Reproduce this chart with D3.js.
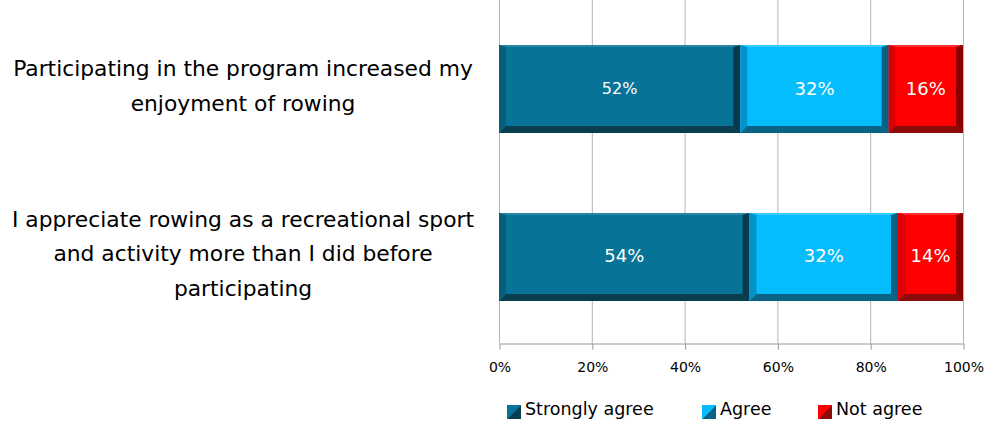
<!DOCTYPE html>
<html><head><meta charset="utf-8">
<script src="https://cdn.jsdelivr.net/npm/d3@7"></script>
<style>body{margin:0;background:#fff}svg{display:block}text{font-family:"DejaVu Sans",Verdana,sans-serif}</style>
</head><body>
<script>
const categories = [
  ["Participating in the program increased my", "enjoyment of rowing"],
  ["I appreciate rowing as a recreational sport", "and activity more than I did before", "participating"]
];
const seriesNames = ["Strongly agree", "Agree", "Not agree"];
const stronglyAgree = [52, 54];
const agree = [32, 32];
const notAgree = [16, 14];
const tickValues = [0, 20, 40, 60, 80, 100];

const faces = ["#077396", "#05bdfd", "#fe0000"];
const leftB = ["#085e7b", "#0392c9", "#dd0000"];
const topB = ["#2a86a6", "#39caff", "#ff3030"];
const botB = ["#093e51", "#0a6384", "#8c0b0b"];
const rightB = ["#083a4c", "#0b5f80", "#8a0000"];

const W = 987, H = 425;
const svg = d3.select("body").append("svg").attr("width", W).attr("height", H);
const x = d3.scaleLinear().domain([0, 100]).range([499, 963]);
const y = d3.scaleBand().domain(d3.range(categories.length)).range([3, 343]).paddingInner(0.476).paddingOuter(0.25);

// gridlines
svg.append("g").selectAll("line").data(tickValues).join("line")
  .attr("x1", d => x(d) + 0.5).attr("x2", d => x(d) + 0.5)
  .attr("y1", 0).attr("y2", 343).attr("stroke", "#b5b5b5").attr("stroke-width", 1);

// axis
const axis = svg.append("g").attr("transform", "translate(0.5,343.5)")
  .call(d3.axisBottom(x).tickValues(tickValues).tickFormat(d => d + "%").tickSize(6).tickSizeOuter(0));
axis.select(".domain").attr("stroke", "#999");
axis.selectAll(".tick line").attr("stroke", "#999");
axis.selectAll(".tick text").attr("fill", "#000").attr("font-size", 14).attr("dy", "1.4em")
  .style("font-family", '"DejaVu Sans",Verdana,sans-serif');

// bars
const rows = categories.map((c, i) => {
  const vals = [stronglyAgree[i], agree[i], notAgree[i]];
  let acc = 0;
  return vals.map((v, k) => { const s = acc; acc += v; return {i, k, v, x0: s, x1: acc}; });
});
const bev = 7;
rows.forEach(row => row.forEach(d => {
  const g = svg.append("g");
  const X0 = x(d.x0), X1 = x(d.x1), Y0 = y(d.i), Y1 = y(d.i) + y.bandwidth();
  g.append("rect").attr("x", X0).attr("y", Y0).attr("width", X1 - X0).attr("height", Y1 - Y0).attr("fill", faces[d.k]);
  g.append("polygon").attr("points", [[X0,Y0],[X1,Y0],[X1-bev,Y0+2],[X0+bev,Y0+2]].join(" ")).attr("fill", topB[d.k]);
  g.append("polygon").attr("points", [[X0,Y0],[X0+bev,Y0+2],[X0+bev,Y1-bev],[X0,Y1]].join(" ")).attr("fill", leftB[d.k]);
  g.append("polygon").attr("points", [[X1,Y0],[X1,Y1],[X1-bev,Y1-bev],[X1-bev,Y0+2]].join(" ")).attr("fill", rightB[d.k]);
  g.append("polygon").attr("points", [[X0,Y1],[X0+bev,Y1-bev],[X1-bev,Y1-bev],[X1,Y1]].join(" ")).attr("fill", botB[d.k]);
  g.append("text").attr("x", (X0 + X1) / 2).attr("y", (Y0 + Y1) / 2 - 1)
    .attr("text-anchor", "middle").attr("dominant-baseline", "central")
    .attr("fill", "#fff").attr("font-size", d.i === 0 && d.k === 0 ? 16 : 18).text(d.v + "%");
}));

// category labels
categories.forEach((lines, i) => {
  const cy = y(i) + y.bandwidth() / 2 - 3;
  const lh = 34.5;
  const start = cy - (lines.length - 1) * lh / 2;
  const t = svg.append("text").attr("text-anchor", "middle").attr("font-size", 21.8).attr("fill", "#000");
  lines.forEach((l, j) => t.append("tspan").attr("x", 243).attr("y", start + j * lh).attr("dominant-baseline", "central").text(l));
});

// legend
const legendX = [507, 702, 818];
const defs = svg.append("defs");
seriesNames.forEach((n, k) => {
  const gr = defs.append("linearGradient").attr("id", "lg" + k).attr("x1", 0).attr("y1", 0).attr("x2", 1).attr("y2", 1);
  gr.append("stop").attr("offset", "50%").attr("stop-color", faces[k]);
  gr.append("stop").attr("offset", "50%").attr("stop-color", botB[k]);
  const lg = svg.append("g").attr("transform", `translate(${legendX[k]},405)`);
  lg.append("rect").attr("width", 14).attr("height", 14).attr("fill", `url(#lg${k})`);
  lg.append("text").attr("x", 18).attr("y", 4).attr("dominant-baseline", "central").attr("font-size", 17.5).attr("fill", "#000").text(n);
});
</script>
</body></html>
